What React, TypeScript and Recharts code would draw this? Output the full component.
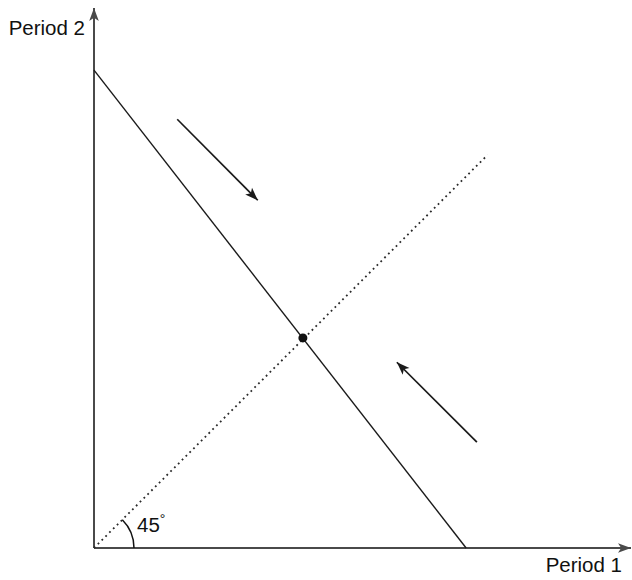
import React from 'react';
import { LineChart, Line, XAxis, YAxis, ReferenceDot } from 'recharts';

const W = 632;
const H = 580;
const MARGIN = { top: 8, right: 1, bottom: 32, left: 94 };
const FONT = '"Liberation Sans", Arial, Helvetica, sans-serif';

// axis ends (in chart units)
const yAxisPts = [{ x: 0, y: 0 }, { x: 0, y: 10 }];
const xAxisPts = [{ x: 0, y: 0 }, { x: 10, y: 0 }];

// budget line and 45-degree line
const budgetLine = [{ x: 0, y: 8.85 }, { x: 6.93, y: 0 }];
const diagonal = [{ x: 0, y: 0 }, { x: 7.33, y: 7.28 }];
const equilibrium = { x: 3.89, y: 3.89 };

// adjustment arrows
const arrowDown = [{ x: 1.55, y: 7.94 }, { x: 3.05, y: 6.44 }];
const arrowUp = [{ x: 7.13, y: 1.96 }, { x: 5.64, y: 3.44 }];

const xDomain = [0, 10];
const yDomain = [0, 10];

const INK = '#1a1a1a';
const AXIS = '#4a4a4a';

function arrowHead(x: number, y: number, ang: number, len = 13, half = 4.8, notch = 3.2) {
  const c = Math.cos(ang);
  const s = Math.sin(ang);
  const pt = (a: number, b: number) => `${x + a * c - b * s},${y + a * s + b * c}`;
  return `M${pt(0, 0)} L${pt(-len, -half)} L${pt(-len + notch, 0)} L${pt(-len, half)} Z`;
}

// dot renderer that puts an arrowhead on the last point, with an optional label
const makeArrowDot = (color: string, label?: { text: string; dx: number; dy: number }) => (p: any) => {
  const pts = p.points || [];
  if (p.index !== pts.length - 1 || pts.length < 2) return <g key={p.key} />;
  const a = pts[pts.length - 2];
  const b = pts[pts.length - 1];
  const ang = Math.atan2(b.y - a.y, b.x - a.x);
  return (
    <g key={p.key}>
      <path d={arrowHead(p.cx, p.cy, ang)} fill={color} stroke="none" />
      {label && (
        <text
          x={p.cx + label.dx}
          y={p.cy + label.dy}
          textAnchor="end"
          fontFamily={FONT}
          fontSize={20.5}
          fill="#111"
        >
          {label.text}
        </text>
      )}
    </g>
  );
};

// angle marker at the origin of the 45-degree line
const angleDot = (p: any) => {
  if (p.index !== 0) return <g key={p.key} />;
  const r = 40;
  const ex = p.cx + r * Math.cos(Math.PI / 4);
  const ey = p.cy - r * Math.sin(Math.PI / 4);
  return (
    <g key={p.key}>
      <path d={`M${p.cx + r},${p.cy} A${r},${r} 0 0 0 ${ex},${ey}`} fill="none" stroke="#111" strokeWidth={1.5} />
      <text x={p.cx + 43} y={p.cy - 16} fontFamily={FONT} fontSize={20.5} fill="#111">
        45<tspan fontSize={14} dy={-8}>°</tspan>
      </text>
    </g>
  );
};

export default function App() {
  return (
    <div style={{ position: 'absolute', left: 0, top: 0, width: W, height: H, background: '#fff' }}>
      <LineChart width={W} height={H} margin={MARGIN}>
        <XAxis type="number" dataKey="x" domain={xDomain} hide />
        <YAxis type="number" dataKey="y" domain={yDomain} hide />

        <Line
          data={yAxisPts}
          dataKey="y"
          stroke={AXIS}
          strokeWidth={2}
          dot={makeArrowDot(AXIS, { text: 'Period 2', dx: -9, dy: 27 })}
          activeDot={false}
          isAnimationActive={false}
        />
        <Line
          data={xAxisPts}
          dataKey="y"
          stroke={AXIS}
          strokeWidth={2}
          dot={makeArrowDot(AXIS, { text: 'Period 1', dx: -9, dy: 24 })}
          activeDot={false}
          isAnimationActive={false}
        />
        <Line
          data={diagonal}
          dataKey="y"
          stroke="#2a2a2a"
          strokeWidth={1.8}
          strokeDasharray="1.8 3.6"
          dot={angleDot}
          activeDot={false}
          isAnimationActive={false}
        />
        <Line
          data={budgetLine}
          dataKey="y"
          stroke={INK}
          strokeWidth={1.4}
          dot={false}
          activeDot={false}
          isAnimationActive={false}
        />
        <Line
          data={arrowDown}
          dataKey="y"
          stroke={INK}
          strokeWidth={1.7}
          dot={makeArrowDot(INK)}
          activeDot={false}
          isAnimationActive={false}
        />
        <Line
          data={arrowUp}
          dataKey="y"
          stroke={INK}
          strokeWidth={1.7}
          dot={makeArrowDot(INK)}
          activeDot={false}
          isAnimationActive={false}
        />
        <ReferenceDot x={equilibrium.x} y={equilibrium.y} r={4.5} fill="#111" stroke="none" />
      </LineChart>
    </div>
  );
}
